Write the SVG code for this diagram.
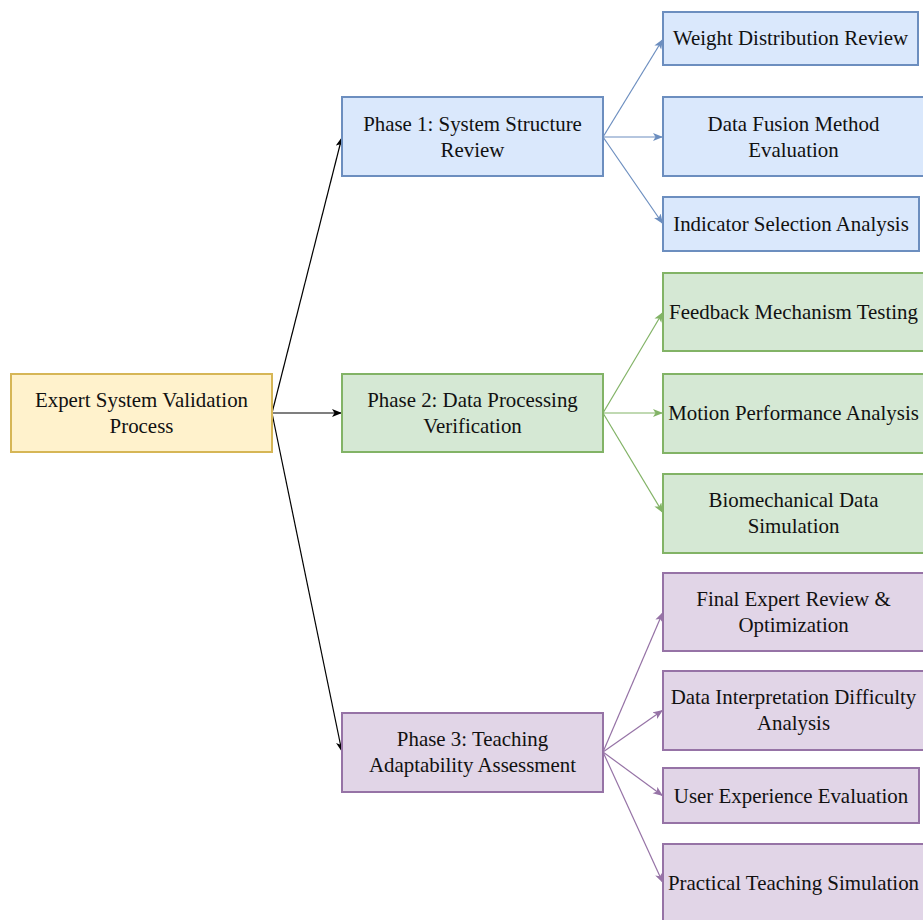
<svg xmlns="http://www.w3.org/2000/svg" width="923" height="920" viewBox="0 0 923 920">
<defs>
<style>
.t{font-family:"Liberation Serif","Times New Roman",serif;font-size:20.9px;fill:#111;text-anchor:middle}
.root{fill:#fff2cc;stroke:#d6b656;stroke-width:2}
.blue{fill:#dae8fc;stroke:#6c8ebf;stroke-width:2}
.green{fill:#d5e8d4;stroke:#82b366;stroke-width:2}
.purple{fill:#e1d5e7;stroke:#9673a6;stroke-width:2}
.ek{fill:none;stroke:#000;stroke-width:1.2}
.eb{fill:none;stroke:#6c8ebf;stroke-width:1.2}
.eg{fill:none;stroke:#82b366;stroke-width:1.2}
.ep{fill:none;stroke:#9673a6;stroke-width:1.2}
</style>
<marker id="mk" markerUnits="userSpaceOnUse" markerWidth="11" markerHeight="10" refX="10" refY="4" orient="auto"><path d="M0,0 L10,4 L0,8 L2.5,4 Z" fill="#000"/></marker>
<marker id="mb" markerUnits="userSpaceOnUse" markerWidth="11" markerHeight="10" refX="10" refY="4" orient="auto"><path d="M0,0 L10,4 L0,8 L2.5,4 Z" fill="#6c8ebf"/></marker>
<marker id="mg" markerUnits="userSpaceOnUse" markerWidth="11" markerHeight="10" refX="10" refY="4" orient="auto"><path d="M0,0 L10,4 L0,8 L2.5,4 Z" fill="#82b366"/></marker>
<marker id="mp" markerUnits="userSpaceOnUse" markerWidth="11" markerHeight="10" refX="10" refY="4" orient="auto"><path d="M0,0 L10,4 L0,8 L2.5,4 Z" fill="#9673a6"/></marker>
</defs>
<rect width="923" height="920" fill="#fff"/>
<g id="connectors">
<line class="ek" x1="272" y1="413" x2="342" y2="137" marker-end="url(#mk)"/>
<line class="ek" x1="272" y1="413" x2="342" y2="413" marker-end="url(#mk)"/>
<line class="ek" x1="272" y1="413" x2="342" y2="752" marker-end="url(#mk)"/>
<line class="eb" x1="603" y1="137" x2="663" y2="39" marker-end="url(#mb)"/>
<line class="eb" x1="603" y1="137" x2="663" y2="137" marker-end="url(#mb)"/>
<line class="eb" x1="603" y1="137" x2="663" y2="224" marker-end="url(#mb)"/>
<line class="eg" x1="603" y1="413" x2="663" y2="312" marker-end="url(#mg)"/>
<line class="eg" x1="603" y1="413" x2="663" y2="413" marker-end="url(#mg)"/>
<line class="eg" x1="603" y1="413" x2="663" y2="513" marker-end="url(#mg)"/>
<line class="ep" x1="603" y1="752" x2="663" y2="612" marker-end="url(#mp)"/>
<line class="ep" x1="603" y1="752" x2="663" y2="710" marker-end="url(#mp)"/>
<line class="ep" x1="603" y1="752" x2="663" y2="796" marker-end="url(#mp)"/>
<line class="ep" x1="603" y1="752" x2="663" y2="883" marker-end="url(#mp)"/>
</g>
<g id="root"><rect class="root" x="11" y="374" width="261" height="78"/><text class="t" x="141.5" y="407">Expert System Validation</text><text class="t" x="141.5" y="433">Process</text></g>
<g id="phase1"><rect class="blue" x="342" y="97" width="261" height="79"/><text class="t" x="472.5" y="131">Phase 1: System Structure</text><text class="t" x="472.5" y="157">Review</text></g>
<g id="phase2"><rect class="green" x="342" y="374" width="261" height="78"/><text class="t" x="472.5" y="407">Phase 2: Data Processing</text><text class="t" x="472.5" y="433">Verification</text></g>
<g id="phase3"><rect class="purple" x="342" y="713" width="261" height="79"/><text class="t" x="472.5" y="746">Phase 3: Teaching</text><text class="t" x="472.5" y="772">Adaptability Assessment</text></g>
<g id="weight"><rect class="blue" x="663" y="12" width="255" height="53"/><text class="t" x="790.5" y="45">Weight Distribution Review</text></g>
<g id="fusion"><rect class="blue" x="663" y="97" width="261" height="79"/><text class="t" x="793.5" y="131">Data Fusion Method</text><text class="t" x="793.5" y="157">Evaluation</text></g>
<g id="indicator"><rect class="blue" x="663" y="197" width="256" height="54"/><text class="t" x="791" y="231">Indicator Selection Analysis</text></g>
<g id="feedback"><rect class="green" x="663" y="273" width="261" height="78"/><text class="t" x="793.5" y="319">Feedback Mechanism Testing</text></g>
<g id="motion"><rect class="green" x="663" y="374" width="261" height="79"/><text class="t" x="793.5" y="420">Motion Performance Analysis</text></g>
<g id="biomech"><rect class="green" x="663" y="474" width="261" height="79"/><text class="t" x="793.5" y="507">Biomechanical Data</text><text class="t" x="793.5" y="533">Simulation</text></g>
<g id="final"><rect class="purple" x="663" y="573" width="261" height="78"/><text class="t" x="793.5" y="606">Final Expert Review &amp;</text><text class="t" x="793.5" y="632">Optimization</text></g>
<g id="interp"><rect class="purple" x="663" y="671" width="261" height="79"/><text class="t" x="793.5" y="704">Data Interpretation Difficulty</text><text class="t" x="793.5" y="730">Analysis</text></g>
<g id="ux"><rect class="purple" x="663" y="768" width="256" height="55"/><text class="t" x="791" y="803">User Experience Evaluation</text></g>
<g id="practical"><rect class="purple" x="663" y="844" width="261" height="79"/><text class="t" x="793.5" y="890">Practical Teaching Simulation</text></g>
</svg>
